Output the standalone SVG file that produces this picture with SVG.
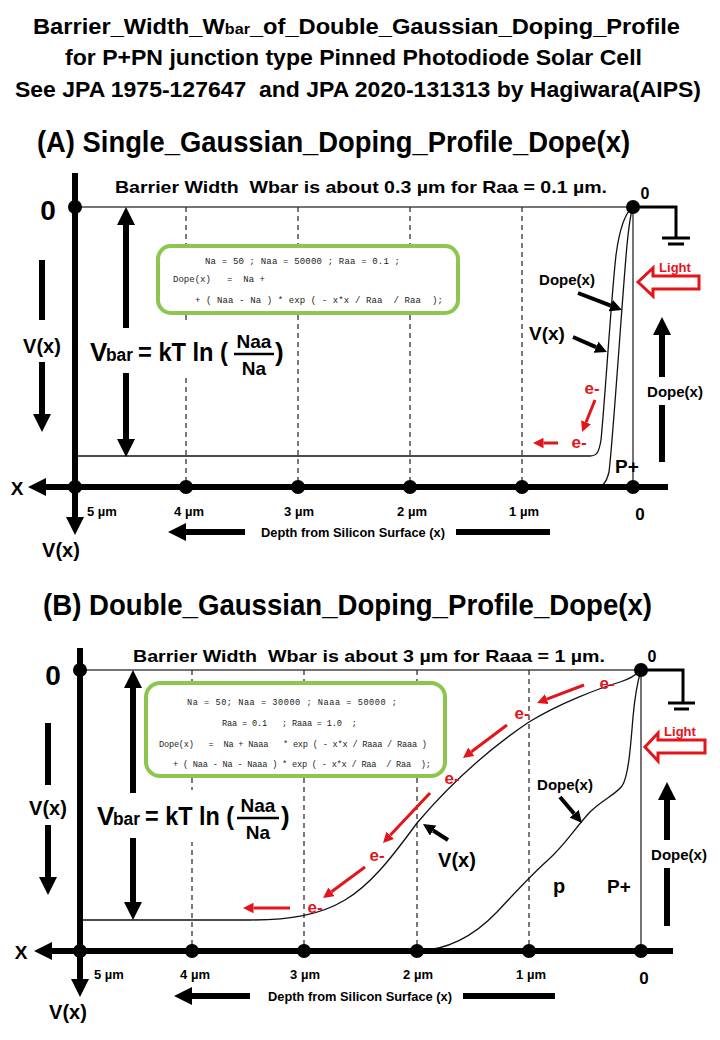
<svg xmlns="http://www.w3.org/2000/svg" width="720" height="1040" viewBox="0 0 720 1040">
<defs>
<marker id="ah" viewBox="0 0 10 10" refX="0" refY="5" markerWidth="3" markerHeight="3" orient="auto" markerUnits="strokeWidth"><path d="M0,0 L10,5 L0,10 z" fill="#000"/></marker>
<marker id="ahr" viewBox="0 0 10 10" refX="0" refY="5" markerWidth="3.5" markerHeight="3.5" orient="auto" markerUnits="strokeWidth"><path d="M0,0 L10,5 L0,10 z" fill="#E3141B"/></marker>
</defs>
<style>
text{font-family:"Liberation Sans",Arial,sans-serif;font-weight:bold;fill:#000}
.code{font-family:"Liberation Mono","DejaVu Sans Mono",monospace;font-weight:normal;fill:#222;white-space:pre}
.thin{stroke:#444;stroke-width:1.5;fill:none}
.dash{stroke:#333;stroke-width:1.3;stroke-dasharray:5 4;fill:none}
.ax{stroke:#000;stroke-width:6;fill:none}
.arr{stroke:#000;stroke-width:6;fill:none;marker-end:url(#ah)}
.larr{stroke:#000;stroke-width:4;fill:none;marker-end:url(#ah)}
.rarr{stroke:#E3141B;stroke-width:3;fill:none;marker-end:url(#ahr)}
.curve{stroke:#111;stroke-width:1.3;fill:none}
.box{fill:#fff;stroke:#8CC64F;stroke-width:4}
.red{fill:#E3141B}
.dot{fill:#000}
.gnd{stroke:#000;stroke-width:3;fill:none}
.light{fill:#fff;stroke:#E3141B;stroke-width:3}
.wb{fill:#fff}
</style>
<rect width="720" height="1040" fill="#fff"/>

<g id="title">
<text x="33" y="34" font-size="22" textLength="647" lengthAdjust="spacingAndGlyphs">Barrier_Width_W<tspan font-size="15">bar</tspan>_of_Double_Gaussian_Doping_Profile</text>
<text x="65" y="65" font-size="22" textLength="577" lengthAdjust="spacingAndGlyphs">for P+PN junction type Pinned Photodiode Solar Cell</text>
<text x="15" y="97" font-size="22" textLength="686" lengthAdjust="spacingAndGlyphs" xml:space="preserve">See JPA 1975-127647  and JPA 2020-131313 by Hagiwara(AIPS)</text>
</g>

<!-- ================= PANEL A ================= -->
<g id="panelA">
<text id="headerA" x="37" y="152" font-size="29" textLength="593" lengthAdjust="spacingAndGlyphs">(A) Single_Gaussian_Doping_Profile_Dope(x)</text>
<text id="barrierA" x="115" y="193" font-size="17" textLength="492" lengthAdjust="spacingAndGlyphs" xml:space="preserve">Barrier Width  Wbar is about 0.3 µm for Raa = 0.1 µm.</text>

<g id="gridA">
<line class="thin" x1="75" y1="207" x2="633" y2="207"/>
<line class="thin" x1="633" y1="207" x2="633" y2="487"/>
<line class="dash" x1="186" y1="207" x2="186" y2="487"/>
<line class="dash" x1="298" y1="207" x2="298" y2="487"/>
<line class="dash" x1="410" y1="207" x2="410" y2="487"/>
<line class="dash" x1="522" y1="207" x2="522" y2="487"/>
</g>

<g id="codeA">
<rect class="box" x="158" y="246" width="300" height="67" rx="13"/>
<text class="code" x="205" y="264" font-size="9" textLength="195" xml:space="preserve">Na = 50 ; Naa = 50000 ; Raa = 0.1 ;</text>
<text class="code" x="173" y="282" font-size="9" textLength="92" xml:space="preserve">Dope(x)   =  Na +</text>
<text class="code" x="195" y="303" font-size="9" textLength="248" xml:space="preserve">+ ( Naa - Na ) * exp ( - x*x / Raa  / Raa  );</text>
</g>

<g id="formulaA">
<rect class="wb" x="86" y="323" width="200" height="54"/>
<text x="90" y="361" font-size="26">V</text>
<text x="106" y="361" font-size="18" textLength="27" lengthAdjust="spacingAndGlyphs">bar</text>
<text x="138" y="361" font-size="26" textLength="90" lengthAdjust="spacingAndGlyphs">= kT ln (</text>
<text x="254" y="348" font-size="19" text-anchor="middle">Naa</text>
<line x1="234" y1="354" x2="274" y2="354" stroke="#000" stroke-width="2.5"/>
<text x="254" y="375" font-size="19" text-anchor="middle">Na</text>
<text x="275" y="361" font-size="26">)</text>
</g>

<g id="curvesA">
<path id="VxA" class="curve" d="M75,456 L590,456 C597,456 599,452 601,440 C605,400 611,300 616,255 C620,225 626,212 633,207"/>
<path id="DopeA" class="curve" d="M596,487 C602,487 606,484 609,472 C613,440 622,300 627,245 C629,225 631,212 633,207"/>
</g>

<g id="axesA">
<line class="arr" x1="75" y1="173" x2="75" y2="517"/>
<line class="arr" x1="668" y1="487" x2="46" y2="487"/>
<circle class="dot" cx="75" cy="207" r="7"/>
<circle class="dot" cx="633" cy="207" r="7"/>
<circle class="dot" cx="75" cy="487" r="7"/>
<circle class="dot" cx="186" cy="487" r="7"/>
<circle class="dot" cx="298" cy="487" r="7"/>
<circle class="dot" cx="410" cy="487" r="7"/>
<circle class="dot" cx="522" cy="487" r="7"/>
<circle class="dot" cx="633" cy="487" r="7"/>
</g>

<g id="labelsA">
<text x="48" y="220" font-size="28" text-anchor="middle">0</text>
<text x="42" y="353" font-size="20" text-anchor="middle">V(x)</text>
<text x="17" y="495" font-size="19" text-anchor="middle">X</text>
<text x="61" y="557" font-size="20" text-anchor="middle">V(x)</text>
<text x="87" y="516" font-size="13">5 µm</text>
<text x="189" y="516" font-size="13" text-anchor="middle">4 µm</text>
<text x="299" y="516" font-size="13" text-anchor="middle">3 µm</text>
<text x="412" y="516" font-size="13" text-anchor="middle">2 µm</text>
<text x="524" y="516" font-size="13" text-anchor="middle">1 µm</text>
<text x="640" y="520" font-size="17" text-anchor="middle">0</text>
<text x="645" y="199" font-size="16" text-anchor="middle">0</text>
<text x="353" y="537" font-size="12.5" text-anchor="middle" textLength="184" lengthAdjust="spacingAndGlyphs">Depth from Silicon Surface (x)</text>
<text x="567" y="285" font-size="15" text-anchor="middle">Dope(x)</text>
<text x="547" y="340" font-size="19" text-anchor="middle">V(x)</text>
<text x="627" y="473" font-size="19" text-anchor="middle">P+</text>
<text x="675" y="397" font-size="15" text-anchor="middle">Dope(x)</text>
<text class="red" x="592" y="394" font-size="17" text-anchor="middle">e-</text>
<text class="red" x="579" y="448" font-size="17" text-anchor="middle">e-</text>
<text class="red" x="675" y="272" font-size="13" text-anchor="middle">Light</text>
</g>

<g id="groundA">
<polyline class="gnd" points="633,207 676,207 676,238"/>
<line class="gnd" x1="662" y1="238" x2="690" y2="238"/>
<line class="gnd" x1="668" y1="244" x2="684" y2="244"/>
</g>
<polygon id="lightA" class="light" points="638,282 653,268 653,276 699,276 699,289 653,289 653,296"/>
</g>

<g id="connectorsA">
<line class="arr" x1="126" y1="328" x2="126" y2="225"/>
<line class="arr" x1="126" y1="373" x2="126" y2="439"/>
<line class="ax" x1="42" y1="260" x2="42" y2="320"/>
<line class="arr" x1="42" y1="362" x2="42" y2="414"/>
<line class="arr" x1="245" y1="532" x2="186" y2="532"/>
<line class="ax" x1="456" y1="532" x2="550" y2="532"/>
<line class="arr" x1="662" y1="377" x2="662" y2="335"/>
<line class="ax" x1="662" y1="405" x2="662" y2="462"/>
<line class="larr" x1="578" y1="293" x2="610.8" y2="305.7"/>
<line class="larr" x1="573" y1="337" x2="596" y2="347.2"/>
<line class="rarr" x1="595" y1="400" x2="586" y2="422.3"/>
<line class="rarr" x1="558" y1="443" x2="543.5" y2="443"/>
</g>

<!-- ================= PANEL B ================= -->
<g id="panelB">
<text id="headerB" x="43" y="615" font-size="29" textLength="609" lengthAdjust="spacingAndGlyphs">(B) Double_Gaussian_Doping_Profile_Dope(x)</text>
<text id="barrierB" x="133" y="662" font-size="17" textLength="472" lengthAdjust="spacingAndGlyphs" xml:space="preserve">Barrier Width  Wbar is about 3 µm for Raaa = 1 µm.</text>

<g id="gridB">
<line class="thin" x1="80" y1="670" x2="641" y2="670"/>
<line class="thin" x1="641" y1="670" x2="641" y2="951"/>
<line class="dash" x1="192" y1="670" x2="192" y2="951"/>
<line class="dash" x1="304" y1="670" x2="304" y2="951"/>
<line class="dash" x1="417" y1="670" x2="417" y2="951"/>
<line class="dash" x1="529" y1="670" x2="529" y2="951"/>
</g>

<g id="codeB">
<rect class="box" x="146" y="683" width="299" height="93" rx="14"/>
<text class="code" x="187" y="705" font-size="8.6" textLength="210" xml:space="preserve">Na = 50; Naa = 30000 ; Naaa = 50000 ;</text>
<text class="code" x="222" y="726" font-size="8.6" textLength="135" xml:space="preserve">Raa = 0.1   ; Raaa = 1.0  ;</text>
<text class="code" x="159" y="747" font-size="8.6" textLength="268" xml:space="preserve">Dope(x)   =  Na + Naaa   * exp ( - x*x / Raaa / Raaa )</text>
<text class="code" x="173" y="767" font-size="8.6" textLength="258" xml:space="preserve">+ ( Naa - Na - Naaa ) * exp ( - x*x / Raa  / Raa  );</text>
</g>

<g id="formulaB">
<rect class="wb" x="93" y="790" width="200" height="52"/>
<text x="97" y="825" font-size="26">V</text>
<text x="113" y="825" font-size="18" textLength="27" lengthAdjust="spacingAndGlyphs">bar</text>
<text x="145" y="825" font-size="26" textLength="89" lengthAdjust="spacingAndGlyphs">= kT ln (</text>
<text x="258" y="812" font-size="19" text-anchor="middle">Naa</text>
<line x1="237" y1="818" x2="279" y2="818" stroke="#000" stroke-width="2.5"/>
<text x="258" y="839" font-size="19" text-anchor="middle">Na</text>
<text x="281" y="825" font-size="26">)</text>
</g>

<g id="curvesB">
<path id="VxB" class="curve" d="M80,920 L250,920 C290,920 320,915 345,900 C370,885 390,860 417,823 C445,790 480,755 529,722 C560,703 600,688 620,682 C630,679 636,675 641,670"/>
<path id="DopeB" class="curve" d="M417,951 C450,950 475,935 497,912 C515,893 528,878 548,860 C565,845 575,828 590,812 C602,800 615,795 622,786 C629,776 631,740 633,717 C635,695 638,680 641,670"/>
</g>

<g id="axesB">
<line class="arr" x1="80" y1="648" x2="80" y2="979"/>
<line class="arr" x1="673" y1="951" x2="52" y2="951"/>
<circle class="dot" cx="80" cy="670" r="7"/>
<circle class="dot" cx="641" cy="670" r="7"/>
<circle class="dot" cx="80" cy="951" r="7"/>
<circle class="dot" cx="192" cy="951" r="7"/>
<circle class="dot" cx="304" cy="951" r="7"/>
<circle class="dot" cx="417" cy="951" r="7"/>
<circle class="dot" cx="529" cy="951" r="7"/>
<circle class="dot" cx="641" cy="951" r="7"/>
</g>

<g id="labelsB">
<text x="53" y="685" font-size="28" text-anchor="middle">0</text>
<text x="48" y="815" font-size="20" text-anchor="middle">V(x)</text>
<text x="21" y="959" font-size="19" text-anchor="middle">X</text>
<text x="68" y="1019" font-size="20" text-anchor="middle">V(x)</text>
<text x="94" y="979" font-size="13">5 µm</text>
<text x="195" y="979" font-size="13" text-anchor="middle">4 µm</text>
<text x="305" y="979" font-size="13" text-anchor="middle">3 µm</text>
<text x="418" y="979" font-size="13" text-anchor="middle">2 µm</text>
<text x="531" y="979" font-size="13" text-anchor="middle">1 µm</text>
<text x="644" y="984" font-size="17" text-anchor="middle">0</text>
<text x="652" y="662" font-size="16" text-anchor="middle">0</text>
<text x="360" y="1001" font-size="12.5" text-anchor="middle" textLength="184" lengthAdjust="spacingAndGlyphs">Depth from Silicon Surface (x)</text>
<text x="565" y="790" font-size="15" text-anchor="middle">Dope(x)</text>
<text x="457" y="867" font-size="20" text-anchor="middle">V(x)</text>
<text x="559" y="893" font-size="20" text-anchor="middle">p</text>
<text x="619" y="893" font-size="19" text-anchor="middle">P+</text>
<text x="679" y="860" font-size="15" text-anchor="middle">Dope(x)</text>
<text class="red" x="607" y="689" font-size="17" text-anchor="middle">e-</text>
<text class="red" x="522" y="719" font-size="17" text-anchor="middle">e-</text>
<text class="red" x="452" y="784" font-size="17" text-anchor="middle">e-</text>
<text class="red" x="377" y="861" font-size="17" text-anchor="middle">e-</text>
<text class="red" x="315" y="913" font-size="17" text-anchor="middle">e-</text>
<text class="red" x="680" y="736" font-size="13" text-anchor="middle">Light</text>
</g>

<g id="groundB">
<polyline class="gnd" points="641,670 683,670 683,703"/>
<line class="gnd" x1="668" y1="703" x2="695" y2="703"/>
<line class="gnd" x1="674" y1="709" x2="689" y2="709"/>
</g>
<polygon id="lightB" class="light" points="645,747 658,733 658,740 705,740 705,753 658,753 658,761"/>
</g>

<g id="connectorsB">
<line class="arr" x1="133" y1="793" x2="133" y2="688"/>
<line class="arr" x1="133" y1="838" x2="133" y2="902"/>
<line class="ax" x1="48" y1="723" x2="48" y2="785"/>
<line class="arr" x1="48" y1="825" x2="48" y2="877"/>
<line class="arr" x1="250" y1="996" x2="192" y2="996"/>
<line class="ax" x1="463" y1="996" x2="555" y2="996"/>
<line class="arr" x1="667" y1="840" x2="667" y2="800"/>
<line class="ax" x1="667" y1="868" x2="667" y2="926"/>
<line class="larr" x1="560" y1="797" x2="574.2" y2="813.8"/>
<line class="larr" x1="448" y1="840" x2="433.1" y2="830.5"/>
<line class="rarr" x1="584" y1="685" x2="546.8" y2="699.2"/>
<line class="rarr" x1="507" y1="725" x2="471.4" y2="751.7"/>
<line class="rarr" x1="430" y1="793" x2="390.2" y2="835.3"/>
<line class="rarr" x1="365" y1="867" x2="331.5" y2="891.8"/>
<line class="rarr" x1="290" y1="908" x2="253.5" y2="908"/>
</g>
</svg>
